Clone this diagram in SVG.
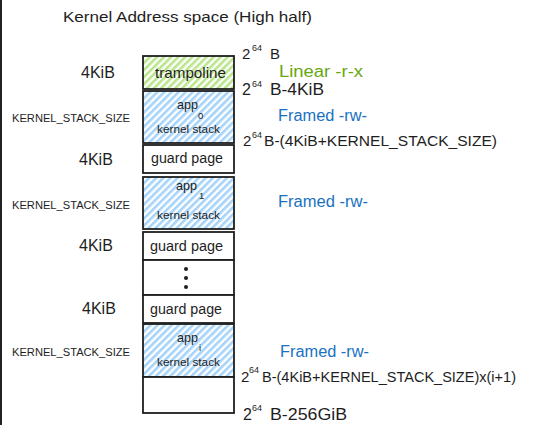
<svg xmlns="http://www.w3.org/2000/svg" width="541" height="425" viewBox="0 0 541 425">
<defs>
<pattern id="hG" width="5" height="5" patternUnits="userSpaceOnUse" patternTransform="rotate(45)">
<rect width="5" height="5" fill="#ffffff"/>
<rect width="2.6" height="5" fill="#b9e68a"/>
</pattern>
<pattern id="hB" width="5" height="5" patternUnits="userSpaceOnUse" patternTransform="rotate(45)">
<rect width="5" height="5" fill="#ffffff"/>
<rect width="2.6" height="5" fill="#a5d3fa"/>
</pattern>
</defs>
<style>
text{font-family:"Liberation Sans",Arial,sans-serif;fill:#1e1e1e}
.box{stroke:#1e1e1e;stroke-width:1.8;fill:#ffffff}
.g{fill:url(#hG)}
.b{fill:url(#hB)}
.lbl{font-size:14px}
.app{font-size:13px}
.sub{font-size:9.5px}
.ks{font-size:11px}
.sz{font-size:16px}
.kss{font-size:10px}
.grn{fill:#66a80f;font-size:16px}
.blu{fill:#1971c2;font-size:16px}
.sup{font-size:9px}
.addr{font-size:15px}
.dot{fill:#1e1e1e}
</style>
<rect x="0" y="0" width="541" height="425" fill="#ffffff"/>
<rect x="0" y="0" width="2" height="425" fill="#222222"/>

<text x="63" y="22" font-size="15" textLength="249" lengthAdjust="spacingAndGlyphs">Kernel Address space (High half)</text>

<g id="trampoline">
<rect class="box g" x="143" y="56" width="91" height="33"/>
<text x="155" y="78" font-size="15" textLength="71" lengthAdjust="spacingAndGlyphs">trampoline</text>
</g>
<g id="app0">
<rect class="box b" x="143" y="91" width="91" height="52"/>
<text class="app" x="177" y="109" textLength="21" lengthAdjust="spacingAndGlyphs">app</text>
<text class="sub" x="198" y="119">0</text>
<text class="ks" x="157" y="133" textLength="63" lengthAdjust="spacingAndGlyphs">kernel stack</text>
</g>
<g id="guard1">
<rect class="box" x="143" y="145" width="91" height="28"/>
<text class="lbl" x="151" y="163" textLength="72" lengthAdjust="spacingAndGlyphs">guard page</text>
</g>
<g id="app1">
<rect class="box b" x="143" y="177" width="91" height="52"/>
<text class="app" x="176" y="190" textLength="21" lengthAdjust="spacingAndGlyphs">app</text>
<text class="sub" x="199" y="199">1</text>
<text class="ks" x="157" y="219" textLength="63" lengthAdjust="spacingAndGlyphs">kernel stack</text>
</g>
<g id="guard2">
<rect class="box" x="143" y="232" width="91" height="28"/>
<text class="lbl" x="150" y="251" textLength="73" lengthAdjust="spacingAndGlyphs">guard page</text>
</g>
<g id="ellipsis">
<rect class="box" x="143" y="260" width="91" height="35"/>
<circle class="dot" cx="186" cy="269" r="2"/>
<circle class="dot" cx="186" cy="278" r="2"/>
<circle class="dot" cx="186" cy="287" r="2"/>
</g>
<g id="guard3">
<rect class="box" x="143" y="295" width="91" height="28"/>
<text class="lbl" x="150" y="314" textLength="72" lengthAdjust="spacingAndGlyphs">guard page</text>
</g>
<g id="appi">
<rect class="box b" x="143" y="324" width="91" height="53"/>
<text class="app" x="177" y="342" textLength="21" lengthAdjust="spacingAndGlyphs">app</text>
<text class="sub" x="199" y="351">i</text>
<text class="ks" x="157" y="366" textLength="63" lengthAdjust="spacingAndGlyphs">kernel stack</text>
</g>
<g id="rest">
<rect class="box" x="143" y="377" width="91" height="36"/>
</g>

<g id="sizes">
<text class="sz" x="81" y="78">4KiB</text>
<text class="kss" x="12" y="122" textLength="118" lengthAdjust="spacingAndGlyphs">KERNEL_STACK_SIZE</text>
<text class="sz" x="79" y="165">4KiB</text>
<text class="kss" x="12" y="209" textLength="118" lengthAdjust="spacingAndGlyphs">KERNEL_STACK_SIZE</text>
<text class="sz" x="79" y="251">4KiB</text>
<text class="sz" x="82" y="314">4KiB</text>
<text class="kss" x="12" y="356" textLength="118" lengthAdjust="spacingAndGlyphs">KERNEL_STACK_SIZE</text>
</g>

<g id="perms">
<text class="grn" x="279" y="77" textLength="84" lengthAdjust="spacingAndGlyphs">Linear -r-x</text>
<text class="blu" x="278" y="121" textLength="89" lengthAdjust="spacingAndGlyphs">Framed -rw-</text>
<text class="blu" x="278" y="207" textLength="90" lengthAdjust="spacingAndGlyphs">Framed -rw-</text>
<text class="blu" x="280" y="357" textLength="89" lengthAdjust="spacingAndGlyphs">Framed -rw-</text>
</g>

<g id="addresses">
<text class="addr" x="242" y="59">2</text>
<text class="sup" x="252" y="51">64</text>
<text class="addr" x="270" y="59">B</text>

<text class="sz" x="242" y="95">2</text>
<text class="sup" x="252" y="87">64</text>
<text class="sz" x="270" y="95" textLength="54" lengthAdjust="spacingAndGlyphs">B-4KiB</text>

<text class="addr" x="243" y="146">2</text>
<text class="sup" x="252" y="138">64</text>
<text class="addr" x="264" y="146" textLength="233" lengthAdjust="spacingAndGlyphs">B-(4KiB+KERNEL_STACK_SIZE)</text>

<text class="addr" x="241" y="382">2</text>
<text class="sup" x="249" y="373">64</text>
<text class="addr" x="262" y="382" textLength="254" lengthAdjust="spacingAndGlyphs">B-(4KiB+KERNEL_STACK_SIZE)x(i+1)</text>

<text class="sz" x="243" y="420">2</text>
<text class="sup" x="252" y="411">64</text>
<text class="sz" x="270" y="420" textLength="77" lengthAdjust="spacingAndGlyphs">B-256GiB</text>
</g>
</svg>
